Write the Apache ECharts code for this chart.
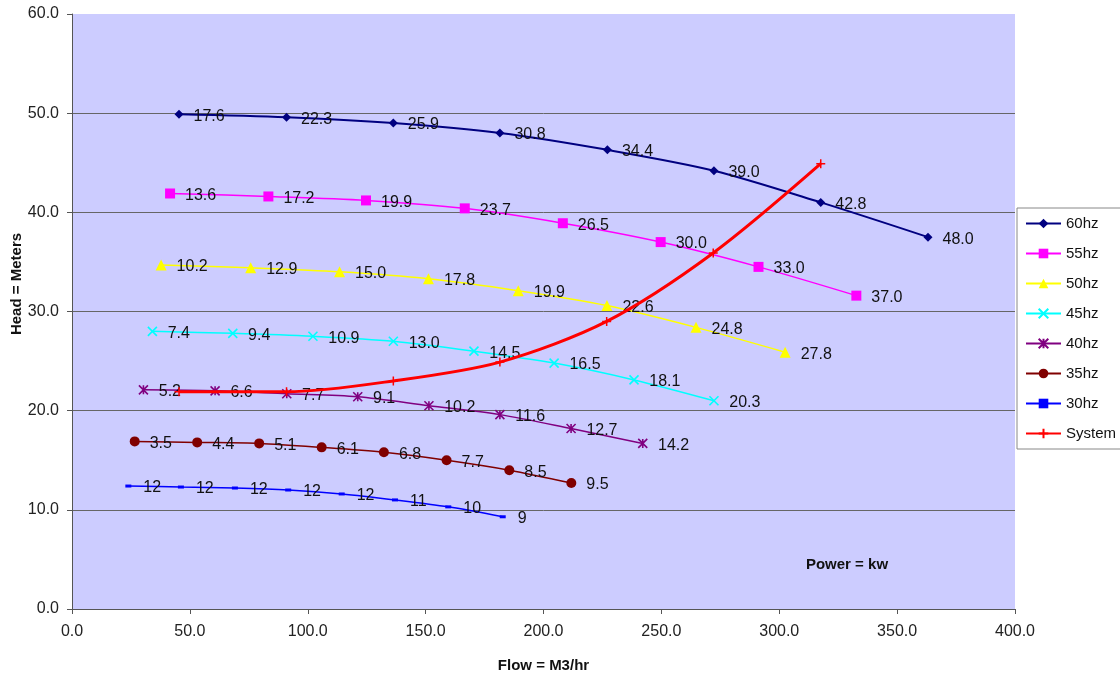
<!DOCTYPE html>
<html>
<head>
<meta charset="utf-8">
<script src="https://cdn.jsdelivr.net/npm/echarts@6/dist/echarts.min.js"></script>
<style>
  html, body { margin: 0; padding: 0; background: #ffffff; }
  #chart { width: 1120px; height: 678px; }
</style>
</head>
<body>
<div id="chart"></div>
<script>
// Pump curves at different drive frequencies: flow (M3/hr), head (m), shaft power (kw)
const flow60 = [45.4, 91.0, 136.3, 181.5, 227.1, 272.3, 317.6, 363.1];
const head60 = [49.9, 49.6, 49.0, 48.0, 46.3, 44.2, 41.0, 37.5];
const power60 = [17.6, 22.3, 25.9, 30.8, 34.4, 39.0, 42.8, 48.0];

const flow55 = [41.6, 83.3, 124.7, 166.6, 208.2, 249.7, 291.2, 332.7];
const head55 = [41.9, 41.6, 41.2, 40.4, 38.9, 37.0, 34.5, 31.6];
const power55 = [13.6, 17.2, 19.9, 23.7, 26.5, 30.0, 33.0, 37.0];

const flow50 = [37.8, 75.8, 113.5, 151.2, 189.3, 226.9, 264.7, 302.5];
const head50 = [34.7, 34.4, 34.0, 33.3, 32.1, 30.6, 28.4, 25.9];
const power50 = [10.2, 12.9, 15.0, 17.8, 19.9, 22.6, 24.8, 27.8];

const flow45 = [34.1, 68.2, 102.2, 136.3, 170.5, 204.5, 238.4, 272.3];
const head45 = [28.0, 27.8, 27.5, 27.0, 26.0, 24.8, 23.1, 21.0];
const power45 = [7.4, 9.4, 10.9, 13.0, 14.5, 16.5, 18.1, 20.3];

const flow40 = [30.3, 60.7, 91.1, 121.2, 151.4, 181.5, 211.7, 242.1];
const head40 = [22.1, 22.0, 21.7, 21.4, 20.5, 19.6, 18.2, 16.7];
const power40 = [5.2, 6.6, 7.7, 9.1, 10.2, 11.6, 12.7, 14.2];

const flow35 = [26.6, 53.1, 79.4, 105.9, 132.3, 158.9, 185.5, 211.8];
const head35 = [16.9, 16.8, 16.7, 16.3, 15.8, 15.0, 14.0, 12.7];
const power35 = [3.5, 4.4, 5.1, 6.1, 6.8, 7.7, 8.5, 9.5];

const flow30 = [23.9, 46.2, 69.1, 91.7, 114.4, 137.0, 159.6, 182.7];
const head30 = [12.4, 12.3, 12.2, 12.0, 11.6, 11.0, 10.3, 9.3];
const power30 = [12, 12, 12, 12, 12, 11, 10, 9];

// System resistance curve
const flowSys = [45.4, 91.0, 136.3, 181.5, 226.8, 272.0, 317.6];
const headSys = [21.9, 21.9, 23.0, 24.9, 29.0, 35.9, 44.9];

const xTicks = { min: 0, max: 400, step: 50 };
const yTicks = { min: 0, max: 60, step: 10 };

const FONT = "'Liberation Sans', Arial, sans-serif";

const xMark = 'path://M0,0L10,10M10,0L0,10';
const starMark = 'path://M0,0L10,10M10,0L0,10M5,0L5,10';
const plusMark = 'path://M5,0L5,10M0,5L10,5';

function pts(xs, ys, ps) {
  return xs.map((x, i) => ps ? [x, ys[i], ps[i]] : [x, ys[i]]);
}

function curve(name, xs, ys, ps, color, symbol, size, opts) {
  opts = opts || {};
  const decimals = opts.decimals === undefined ? 1 : opts.decimals;
  return {
    name: name,
    type: 'line',
    data: pts(xs, ys, ps),
    smooth: 0.3,
    symbol: symbol,
    symbolSize: size,
    showAllSymbol: true,
    lineStyle: { color: color, width: opts.width || 1.5 },
    itemStyle: {
      color: opts.fill === false ? 'transparent' : color,
      borderColor: color,
      borderWidth: opts.stroke || 0
    },
    label: ps ? {
      show: true,
      position: 'right',
      distance: opts.dist || 10,
      offset: [0, 2],
      color: '#111',
      fontSize: 16,
      fontFamily: FONT,
      formatter: p => Number(p.value[2]).toFixed(decimals)
    } : { show: false },
    emphasis: { disabled: true },
    z: opts.z || 2
  };
}

const chart = echarts.init(document.getElementById('chart'), null, { renderer: 'canvas' });

chart.setOption({
  animation: false,
  backgroundColor: '#ffffff',
  textStyle: { fontFamily: FONT },
  grid: {
    left: 72, right: 105, top: 14, bottom: 69,
    outerBoundsMode: 'none',
    containLabel: false,
    show: true, backgroundColor: '#CCCCFF', borderWidth: 0
  },
  xAxis: {
    type: 'value',
    min: xTicks.min, max: xTicks.max, interval: xTicks.step,
    name: 'Flow = M3/hr',
    nameLocation: 'middle',
    nameGap: 49,
    nameTextStyle: { fontSize: 15, fontWeight: 'bold', color: '#111', fontFamily: FONT },
    axisLine: { show: true, onZero: false, lineStyle: { color: '#555', width: 1 } },
    axisTick: { show: true, length: 5, lineStyle: { color: '#555' } },
    axisLabel: { fontSize: 16, color: '#222', margin: 15, fontFamily: FONT,
      formatter: v => v.toFixed(1) },
    splitLine: { show: false }
  },
  yAxis: {
    type: 'value',
    min: yTicks.min, max: yTicks.max, interval: yTicks.step,
    axisLine: { show: true, onZero: false, lineStyle: { color: '#555', width: 1 } },
    axisTick: { show: true, length: 5, lineStyle: { color: '#555' } },
    axisLabel: { fontSize: 16, color: '#222', margin: 13, fontFamily: FONT,
      formatter: v => v.toFixed(1) },
    splitLine: { show: true, showMaxLine: false, lineStyle: { color: '#666', width: 1 } }
  },
  legend: {
    orient: 'vertical',
    left: 1017, top: 208,
    backgroundColor: '#ffffff',
    borderColor: '#888',
    borderWidth: 1,
    borderRadius: 0,
    padding: [8, 20, 8, 8],
    itemWidth: 35,
    itemHeight: 12,
    itemGap: 15,
    textStyle: { fontSize: 15, color: '#111', fontFamily: FONT },
    data: ['60hz', '55hz', '50hz', '45hz', '40hz', '35hz', '30hz', 'System']
  },
  graphic: [
    {
      type: 'text',
      x: 17, y: 284,
      rotation: Math.PI / 2,
      style: {
        text: 'Head = Meters',
        font: 'bold 15px ' + FONT,
        fill: '#111',
        align: 'center',
        verticalAlign: 'middle'
      }
    },
    {
      type: 'text',
      x: 847, y: 565,
      style: {
        text: 'Power = kw',
        font: 'bold 15px ' + FONT,
        fill: '#111',
        align: 'center',
        verticalAlign: 'middle'
      }
    }
  ],
  series: [
    curve('60hz', flow60, head60, power60, '#000080', 'diamond', 9, { width: 2 }),
    curve('55hz', flow55, head55, power55, '#FF00FF', 'rect', 10),
    curve('50hz', flow50, head50, power50, '#FFFF00', 'triangle', 11),
    curve('45hz', flow45, head45, power45, '#00FFFF', xMark, 9, { stroke: 1.6, fill: false }),
    curve('40hz', flow40, head40, power40, '#800080', starMark, 9, { stroke: 1.6, fill: false }),
    curve('35hz', flow35, head35, power35, '#800000', 'circle', 10),
    curve('30hz', flow30, head30, power30, '#0000FF', 'rect', [6, 3], { decimals: 0, dist: 12 }),
    curve('System', flowSys, headSys, null, '#FF0000', plusMark, 9, { width: 3, stroke: 1.5, fill: false, z: 3 })
  ]
});
</script>
</body>
</html>
